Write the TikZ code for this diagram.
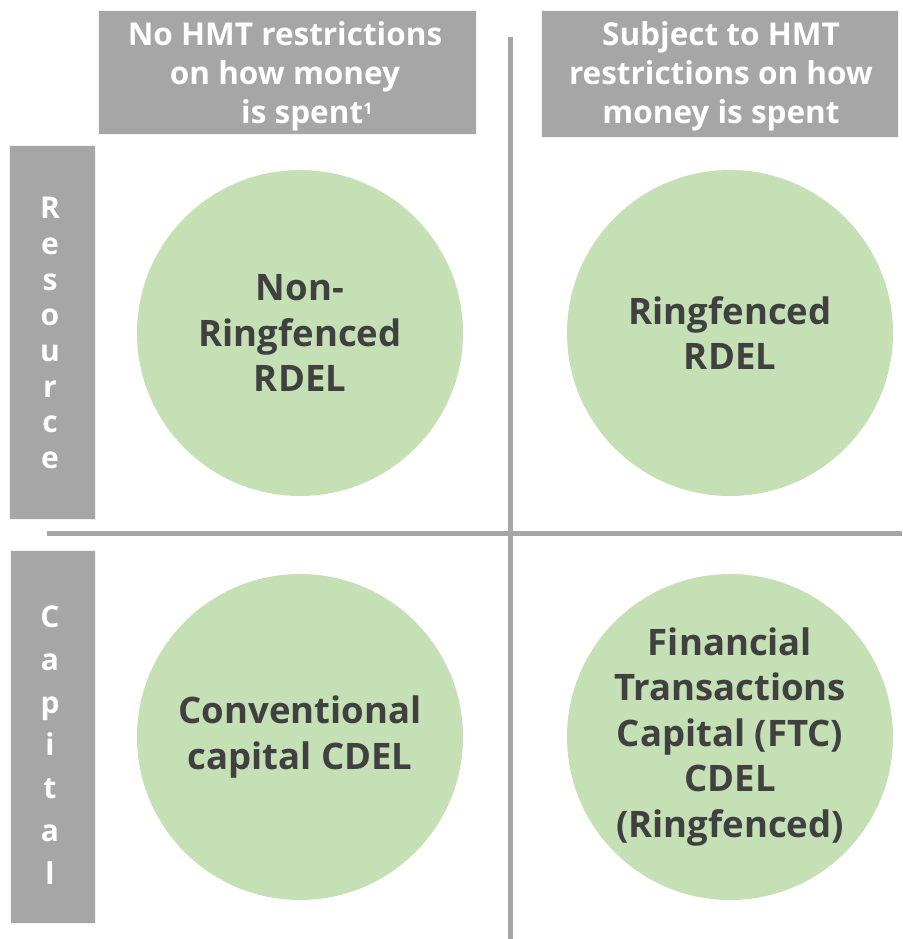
\documentclass[tikz,border=0pt]{standalone}
\usepackage{fontspec}
\setmainfont{Open Sans}
\definecolor{boxgray}{HTML}{A6A6A6}
\definecolor{linegray}{HTML}{A6A6A6}
\definecolor{circgreen}{HTML}{C5E0B4}
\definecolor{txtdark}{HTML}{404040}
\begin{document}
\begin{tikzpicture}[x=1pt,y=-1pt,
  hdrbox/.style={fill=boxgray,draw=white!85!boxgray,line width=0.8pt},
  hdrtext/.style={text=white,font=\bfseries\fontsize{31.5}{39}\selectfont,align=center,inner sep=0pt},
  sidetext/.style={text=white,font=\bfseries\fontsize{30}{35.7}\selectfont,align=center,inner sep=0pt},
  sidetextwide/.style={text=white,font=\bfseries\fontsize{30}{42.8}\selectfont,align=center,inner sep=0pt},
  bubble/.style={circle,fill=circgreen,minimum size=326pt,inner sep=0pt,text=txtdark,font=\bfseries\fontsize{36.5}{45.5}\selectfont,align=center},
  divider/.style={draw=linegray,line width=5pt}]
\useasboundingbox (0,0) rectangle (902,939);
% header boxes
\filldraw[hdrbox] (98,10) rectangle (476,134);
\node[hdrtext] (h1) at (285,76) {No HMT restrictions\\on how money\\\hspace{1.4em}is spent\textsuperscript{\fontsize{16}{16}\selectfont 1}};
\filldraw[hdrbox] (541,10) rectangle (898,137);
\node[hdrtext] (h2) at (721,76) {Subject to HMT\\restrictions on how\\money is spent};
% side boxes
\filldraw[hdrbox] (9,145) rectangle (95,519);
\node[sidetext] (s1) at (50,333) {R\\e\\s\\o\\u\\r\\c\\e};
\filldraw[hdrbox] (10,550) rectangle (95,923);
\node[sidetextwide] (s2) at (50,745) {C\\a\\p\\i\\t\\a\\l};
% dividers
\coordinate (vtop) at (510,37);
\coordinate (vbot) at (510,939);
\coordinate (hl) at (47,533);
\coordinate (hr) at (902,533);
\draw[divider] (vtop) -- (vbot);
\draw[divider] (hl) -- (hr);
% bubbles
\node[bubble] (c1) at (300,333) {Non-\\Ringfenced\\RDEL};
\node[bubble] (c2) at (730,333) {Ringfenced\\RDEL};
\node[bubble] (c3) at (300,737) {Conventional\\capital CDEL};
\node[bubble] (c4) at (730,737) {Financial\\Transactions\\Capital (FTC)\\CDEL\\(Ringfenced)};
\end{tikzpicture}
\end{document}
